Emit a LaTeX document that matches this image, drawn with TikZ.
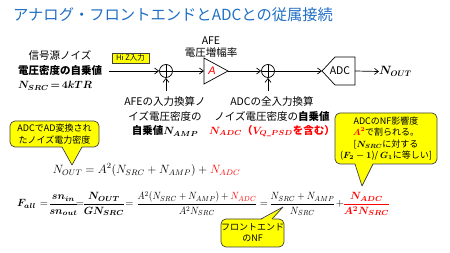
\RequirePackage{fix-cm}
\documentclass[tikz,border=0pt]{standalone}
\usepackage{amsmath,bm}
\usepackage{fontspec}
\setmainfont{Noto Sans CJK JP}
\newfontfamily\arialf{Liberation Sans}
\usetikzlibrary{arrows.meta}
\definecolor{ttl}{HTML}{1F6FC5}
\definecolor{cy}{HTML}{FFFF00}
\definecolor{cb}{HTML}{404040}
\begin{document}
\begin{tikzpicture}[x=1pt,y=-1pt,
  line/.style={line width=0.7pt},
  arr/.style={line width=0.7pt,-{Straight Barb[length=4pt,width=6pt]}},
  lbl/.style={font=\fontsize{10.5}{13}\selectfont, inner sep=0pt, align=center},
  lblb/.style={font=\fontsize{10.5}{13}\selectfont\bfseries, inner sep=0pt, align=center},
  sumnode/.style={circle,draw,line width=0.7pt,minimum size=13pt,inner sep=0pt,
    path picture={\draw[line width=0.7pt] (path picture bounding box.north) -- (path picture bounding box.south) (path picture bounding box.west) -- (path picture bounding box.east);}},
  callbox/.style={draw=cb, fill=cy, line width=0.7pt, rounded corners=5pt, inner sep=0pt, align=center, font=\fontsize{9}{11.3}\selectfont},
  eq/.style={inner sep=0pt, font=\fontsize{12}{14}\selectfont},
  eqp/.style={inner sep=0pt, anchor=base, font=\fontsize{10.5}{13}\selectfont}
]
\useasboundingbox (0,0) rectangle (450,253);
% title
\node[anchor=west, text=ttl, font=\fontsize{15.3}{17}\selectfont, inner sep=0pt] (title) at (13,15) {アナログ・フロントエンドとADCとの従属接続};
% source
\node[lbl] (src1) at (60,55) {信号源ノイズ};
\node[lblb] (src2) at (60,71) {電圧密度の自乗値};
\node[eq, font=\fontsize{10.5}{13}\selectfont] (src3) at (55,86) {$\thickmuskip=3mu\bm{N_{SRC} = 4kTR}$};
\coordinate (srcout) at (109,71);
% Hi Z
\node[draw=cb, fill=cy, line width=0.6pt, minimum width=37pt, minimum height=10pt, inner sep=0pt, font=\fontsize{7.5}{9}\selectfont] (hiz) at (130.5,58) {Hi Z入力};
% summing node 1
\node[sumnode] (s1) at (166,71) {};
% amplifier
\coordinate (ampin) at (204,71);
\coordinate (amptip) at (228,71);
\draw[line] (204,58) -- (amptip) -- (204,84) -- cycle;
\node[text=red, inner sep=0pt, font=\fontsize{11}{13}\selectfont\arialf\itshape] (A) at (212,71) {A};
\node[lbl] (afe) at (211,41) {AFE};
\node[lbl] (gain) at (211,53) {電圧増幅率};
% summing node 2
\node[sumnode] (s2) at (268,71) {};
% ADC
\coordinate (adcin) at (322,71);
\coordinate (adcout) at (355,71);
\draw[line] (adcin) -- (335,57) -- (355,57) -- (355,85) -- (335,85) -- cycle;
\node[inner sep=0pt, font=\fontsize{10.5}{13}\selectfont] (adc) at (340,71) {ADC};
\node[eq, anchor=west] (nout) at (379,71.5) {$\bm{N_{OUT}}$};
% connectors
\draw[arr] (srcout) -- (s1.west);
\draw[arr] (s1.east) -- (ampin);
\draw[arr] (amptip) -- (s2.west);
\draw[arr] (s2.east) -- (adcin);
\draw[arr] (adcout) -- (nout.west);
\coordinate (n1) at (166,91);
\coordinate (n2) at (268,91);
\draw[arr] (n1) -- (s1.south);
\draw[arr] (n2) -- (s2.south);
% labels below
\node[lbl] (a1) at (165,102) {AFEの入力換算ノ};
\node[lbl] (a2) at (165,116.5) {イズ電圧密度の};
\node[lblb] (a3) at (165,131) {自乗値$\bm{N_{AMP}}$};
\node[lbl] (d1) at (272,102) {ADCの全入力換算};
\node[lbl] (d2) at (272,116.5) {ノイズ電圧密度の\textbf{自乗値}};
\node[lblb, text=red] (d3) at (272,131) {$\bm{N_{ADC}}$（$\bm{V_{Q\_PSD}}$を含む）};
% callout 1
\node[callbox, minimum width=89pt, minimum height=26pt] (c1) at (54.5,134) {ADCでAD変換され\\たノイズ電力密度};
\fill[cy] (62,146) -- (72,165) -- (82,146) -- cycle;
\draw[cb, line width=0.7pt, line join=round] (62,147) -- (72,165) -- (82,147);
% equation 1
\node[eq] (eq1) at (146.5,170) {$N_{OUT} = A^2(N_{SRC}+N_{AMP}) + {\color{red}N_{ADC}}$};
% equation 2 (pieces)
\node[eqp] (f1) at (26.5,207) {$\bm{F_{all}}$};
\node[eqp] (e1) at (44,207) {$=$};
\node[eqp] (f2) at (63.5,207) {$\displaystyle\frac{\bm{sn_{in}}}{\bm{sn_{out}}}$};
\node[eqp] (e2) at (80,207) {$=$};
\node[eqp] (f3) at (104,207) {$\displaystyle\frac{\bm{N_{OUT}}}{\bm{GN_{SRC}}}$};
\node[eqp] (e3) at (129.5,207) {$=$};
\node[eqp] (f4) at (197,207) {\scalebox{0.89}[1]{$\displaystyle\frac{A^2(N_{SRC}+N_{AMP}) + {\color{red}N_{ADC}}}{A^2N_{SRC}}$}};
\node[eqp] (e4) at (264,207) {$=$};
\node[eqp] (f5) at (302.5,207) {\scalebox{0.9}[1]{$\displaystyle\frac{N_{SRC}+N_{AMP}}{N_{SRC}}$}};
\node[eqp] (p5) at (340,207) {$+$};
\node[eqp, text=red] (f6) at (366.5,207) {$\displaystyle\frac{\bm{N_{ADC}}}{\bm{A^2N_{SRC}}}$};
% callout 2
\node[callbox, minimum width=102pt, minimum height=51pt] (c2) at (386,138.5) {ADCのNF影響度\\{\color{red}$\bm{A^2}$}で割られる。\\{}[$\bm{N_{SRC}}$に対する\\($\bm{F_2-1}$)/ $\bm{G_1}$に等しい]};
\fill[cy] (355,163) -- (362,186) -- (373,163) -- cycle;
\draw[cb, line width=0.7pt, line join=round] (355,164) -- (362,186) -- (373,164);
% callout 3
\node[callbox, minimum width=61pt, minimum height=28pt] (c3) at (252.5,233) {フロントエンド\\のNF};
\fill[cy] (261,220) -- (283,207) -- (272,220) -- cycle;
\draw[cb, line width=0.7pt, line join=round] (261,219) -- (283,207) -- (272,219);
\end{tikzpicture}
\end{document}
